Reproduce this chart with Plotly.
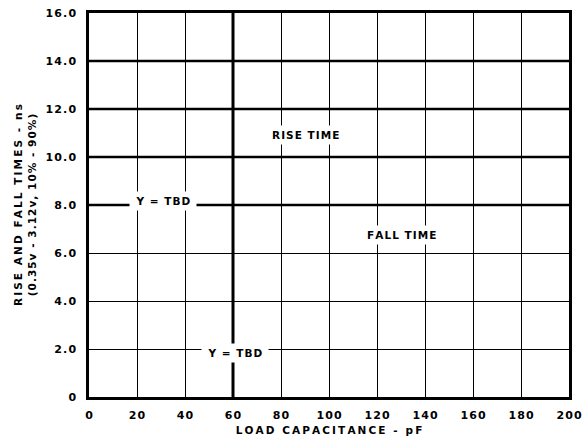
import plotly.graph_objects as go

# Axis values
x_ticks = [0, 20, 40, 60, 80, 100, 120, 140, 160, 180, 200]
y_ticks = [0, 2, 4, 6, 8, 10, 12, 14, 16]
y_tick_labels = ["0", "2.0", "4.0", "6.0", "8.0", "10.0", "12.0", "14.0", "16.0"]

# Heavier reference lines
heavy_x = [60]
heavy_y = [8, 10, 12, 14]

FONT = "DejaVu Sans"
HAIR = "\u200a"
THIN = "\u2009"


def spaced(s, gap=HAIR):
    """Track out lettering with narrow spaces between characters."""
    return gap.join(s)


fig = go.Figure()
fig.add_trace(go.Scatter(x=[], y=[], mode="lines", showlegend=False))

shapes = []
for xv in heavy_x:
    shapes.append(dict(type="line", xref="x", yref="paper", x0=xv, x1=xv, y0=0, y1=1,
                       line=dict(color="black", width=3), layer="above"))
for yv in heavy_y:
    shapes.append(dict(type="line", xref="paper", yref="y", x0=0, x1=1, y0=yv, y1=yv,
                       line=dict(color="black", width=2.4), layer="above"))
# second stroke of the double left border
shapes.append(dict(type="line", xref="x", yref="paper", xsizemode="pixel", xanchor=0,
                   x0=-3, x1=-3, y0=0, y1=1, line=dict(color="black", width=1.5)))

label_font = dict(family=FONT, size=10.5, color="black", weight="bold")
annotations = [
    dict(x=90, y=10.9, text=spaced("RISE TIME")),
    dict(x=130, y=6.75, text=spaced("FALL TIME")),
    dict(x=31, y=8.15, text=spaced("Y = TBD"), width=60),
    dict(x=61, y=1.85, text=spaced("Y = TBD"), width=60),
]
for a in annotations:
    a.update(xref="x", yref="y", showarrow=False, bgcolor="white", borderpad=3,
             font=label_font)

annotations.append(dict(
    xref="paper", yref="paper", x=0, y=0.5, xanchor="center", yanchor="middle",
    xshift=-64, textangle=-90, showarrow=False,
    text=spaced("RISE AND FALL TIMES - ns", THIN) + "<br>"
         + spaced("(0.35v - 3.12v, 10% - 90%)", HAIR),
    font=dict(family=FONT, size=10.5, color="black", weight="bold"),
))

fig.update_layout(
    width=582, height=442,
    margin=dict(l=89, r=13, t=13, b=45, autoexpand=False),
    paper_bgcolor="white", plot_bgcolor="white",
    showlegend=False,
    shapes=shapes,
    annotations=annotations,
    xaxis=dict(
        range=[0, 200], tickvals=x_ticks, ticktext=[spaced(str(v)) for v in x_ticks],
        showgrid=True, gridcolor="black", gridwidth=1.2,
        showline=True, linecolor="black", linewidth=3, mirror=True,
        zeroline=False, ticks="", ticklabelstandoff=6, automargin=False,
        tickfont=dict(family=FONT, size=11, color="black", weight="bold"),
        title=dict(text=spaced("LOAD CAPACITANCE - pF", THIN), standoff=6,
                   font=dict(family=FONT, size=10.5, color="black", weight="bold")),
    ),
    yaxis=dict(
        range=[0, 16], tickvals=y_ticks, ticktext=[spaced(t) for t in y_tick_labels],
        showgrid=True, gridcolor="black", gridwidth=1.4,
        showline=True, linecolor="black", linewidth=2.5, mirror=True,
        zeroline=False, ticks="", ticklabelstandoff=8, automargin=False,
        tickfont=dict(family=FONT, size=11, color="black", weight="bold"),
    ),
)

fig.write_html("out.html")
